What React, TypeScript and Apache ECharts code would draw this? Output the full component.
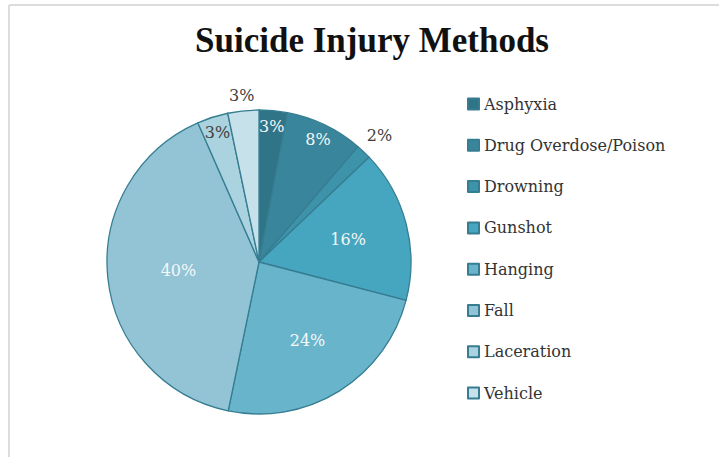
import React, { useEffect, useRef } from "react";
import * as echarts from "echarts";

const titleText = "Suicide Injury Methods";
const methods = [
  "Asphyxia",
  "Drug Overdose/Poison",
  "Drowning",
  "Gunshot",
  "Hanging",
  "Fall",
  "Laceration",
  "Vehicle",
];
const shares = [3.0, 8.3, 1.6, 16.2, 24.2, 40.2, 3.3, 3.3];
const sliceColors = [
  "#2f7487",
  "#39859b",
  "#3d93aa",
  "#47a6bf",
  "#68b5cb",
  "#93c4d6",
  "#aad2df",
  "#c7e1ea",
];

const FONT = "'DejaVu Serif', serif";
const CENTER = [259, 262];
const R = 152;

const fmt = (p: any) => Math.round(p.percent) + "%";

function labelRing(inner: number, outer: number, show: Record<string, string>) {
  return {
    type: "pie",
    center: CENTER,
    radius: [inner, outer],
    silent: true,
    startAngle: 90,
    clockwise: true,
    itemStyle: { color: "rgba(0,0,0,0)", borderWidth: 0 },
    emphasis: { disabled: true },
    tooltip: { show: false },
    labelLine: { show: false },
    label: {
      show: true,
      position: "inside",
      formatter: fmt,
      fontFamily: FONT,
      fontSize: 16,
    },
    data: methods.map((n, i) => ({
      name: n,
      value: shares[i],
      label: show[n] ? { show: true, color: show[n] } : { show: false },
    })),
  };
}

export default function App() {
  const ref = useRef<HTMLDivElement>(null);
  useEffect(() => {
    if (!ref.current) return;
    const chart = echarts.init(ref.current, null, { renderer: "svg" });
    const light = "#f4f7f8";
    const dark = "#404040";
    chart.setOption({
      animation: false,
      backgroundColor: "#ffffff",
      graphic: [
        {
          type: "line",
          shape: { x1: 9, y1: 5, x2: 719, y2: 5 },
          style: { stroke: "#dcdcdc", lineWidth: 2 },
        },
        {
          type: "line",
          shape: { x1: 9, y1: 5, x2: 9, y2: 457 },
          style: { stroke: "#dcdcdc", lineWidth: 2 },
        },
        {
          type: "text",
          x: 372,
          y: 40,
          style: {
            text: titleText,
            textAlign: "center",
            textVerticalAlign: "middle",
            fontFamily: "'Liberation Serif', serif",
            fontWeight: "bold",
            fontSize: 35,
            fill: "#111111",
          },
        },
      ],
      legend: {
        orient: "vertical",
        left: 467,
        top: 96,
        padding: 0,
        icon: "rect",
        itemWidth: 11,
        itemHeight: 11,
        itemGap: 25.3,
        selectedMode: false,
        data: methods,
        textStyle: {
          fontFamily: FONT,
          fontSize: 16,
          lineHeight: 16,
          color: "#333333",
        },
      },
      series: [
        {
          type: "pie",
          center: CENTER,
          radius: R,
          startAngle: 90,
          clockwise: true,
          silent: true,
          label: { show: false },
          labelLine: { show: false },
          itemStyle: { borderColor: "#367d92", borderWidth: 1.3 },
          data: methods.map((n, i) => ({
            name: n,
            value: shares[i],
            itemStyle: { color: sliceColors[i] },
          })),
        },
        labelRing(76, 80, { Fall: light }),
        labelRing(86, 92, { Gunshot: light, Hanging: light }),
        labelRing(129, 137, { Asphyxia: light, "Drug Overdose/Poison": light, Laceration: dark }),
        labelRing(170, 174, { Drowning: dark }),
        labelRing(162, 166, { Vehicle: dark }),
      ],
    });
    return () => chart.dispose();
  }, []);
  return (
    <div
      ref={ref}
      style={{ position: "absolute", left: 0, top: 0, width: 719, height: 457 }}
    />
  );
}
